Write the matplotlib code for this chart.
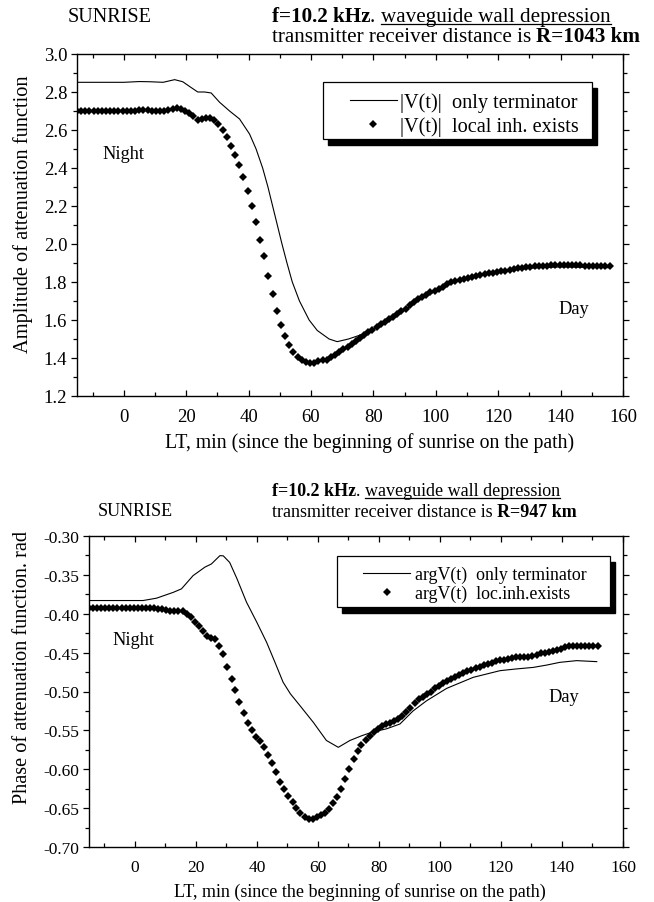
import numpy as np
import matplotlib
matplotlib.use("Agg")
import matplotlib.pyplot as plt
from matplotlib.patches import Rectangle
from matplotlib.lines import Line2D
from matplotlib.ticker import MultipleLocator, FormatStrFormatter

plt.rcParams['font.family'] = ['Liberation Serif', 'DejaVu Serif']
plt.rcParams['axes.unicode_minus'] = False

# ---------------- data ----------------
# sample times (min) of the dotted series
t_dots = [-15.0, -13.7, -12.3, -11.0, -9.7, -8.3, -7.0, -5.7, -4.3, -3.0,
          -1.7, -0.3, 1.0, 2.3, 3.7, 5.0, 6.3, 7.7, 9.0, 10.3,
          11.7, 13.0, 14.3, 15.7, 17.0, 18.3, 19.7, 21.0, 22.3, 23.7,
          25.0, 26.3, 27.7, 29.0, 30.3, 31.7, 33.0, 34.3, 35.7, 37.0,
          38.3, 39.7, 41.0, 42.3, 43.7, 45.0, 46.3, 47.7, 49.0, 50.3,
          51.7, 53.0, 54.3, 55.7, 57.0, 58.3, 59.7, 61.0, 62.3, 63.7,
          65.0, 66.3, 67.7, 69.0, 70.3, 71.7, 73.0, 74.3, 75.7, 77.0,
          78.3, 79.7, 81.0, 82.3, 83.7, 85.0, 86.3, 87.7, 89.0, 90.3,
          91.7, 93.0, 94.3, 95.7, 97.0, 98.3, 99.7, 101.0, 102.3, 103.7,
          105.0, 106.3, 107.7, 109.0, 110.3, 111.7, 113.0, 114.3, 115.7, 117.0,
          118.3, 119.7, 121.0, 122.3, 123.7, 125.0, 126.3, 127.7, 129.0, 130.3,
          131.7, 133.0, 134.3, 135.7, 137.0, 138.3, 139.7, 141.0, 142.3, 143.7,
          145.0, 146.3, 147.7, 149.0, 150.3, 151.7, 153.0, 154.3, 155.7]

# |V(t)| with local inhomogeneity (R=1043 km)
amp_local = [2.700, 2.700, 2.700, 2.700, 2.700, 2.700, 2.700, 2.700, 2.700, 2.700,
             2.700, 2.700, 2.700, 2.700, 2.701, 2.703, 2.704, 2.703, 2.701, 2.700,
             2.699, 2.700, 2.706, 2.713, 2.716, 2.711, 2.701, 2.688, 2.672, 2.655,
             2.657, 2.665, 2.664, 2.652, 2.632, 2.598, 2.565, 2.518, 2.470, 2.418,
             2.355, 2.280, 2.200, 2.115, 2.020, 1.935, 1.830, 1.737, 1.648, 1.575,
             1.515, 1.470, 1.432, 1.405, 1.390, 1.380, 1.374, 1.376, 1.382, 1.387,
             1.392, 1.405, 1.418, 1.430, 1.445, 1.460, 1.474, 1.489, 1.504, 1.519,
             1.535, 1.550, 1.563, 1.577, 1.590, 1.605, 1.618, 1.630, 1.645, 1.660,
             1.677, 1.694, 1.708, 1.720, 1.733, 1.745, 1.755, 1.765, 1.775, 1.787,
             1.798, 1.805, 1.812, 1.818, 1.823, 1.828, 1.833, 1.838, 1.842, 1.846,
             1.850, 1.853, 1.857, 1.860, 1.864, 1.868, 1.872, 1.875, 1.878, 1.880,
             1.882, 1.884, 1.885, 1.886, 1.887, 1.888, 1.889, 1.889, 1.889, 1.889,
             1.888, 1.887, 1.886, 1.885, 1.884, 1.884, 1.883, 1.883, 1.883]

# |V(t)| only terminator
t_amp_term = [-15, 0, 5, 8.3, 12.6, 16.3, 18.9, 21, 23.7, 25.9,
              28, 30.7, 33.9, 37.1, 40.3, 42.4, 44.5, 46.2, 47.7, 49.2,
              50.7, 52.3, 54, 56.3, 59.4, 62, 65.8, 68.4, 72, 76,
              80, 85, 90, 95, 100, 105, 110, 115, 120, 125,
              130, 135, 140, 145, 150, 156]
amp_term = [2.851, 2.851, 2.855, 2.854, 2.851, 2.865, 2.854, 2.83, 2.80, 2.80,
            2.795, 2.746, 2.70, 2.658, 2.579, 2.50, 2.40, 2.30, 2.20, 2.10,
            2.00, 1.90, 1.80, 1.70, 1.60, 1.545, 1.50, 1.486, 1.50, 1.522,
            1.550, 1.598, 1.652, 1.710, 1.752, 1.793, 1.820, 1.836, 1.850, 1.863,
            1.872, 1.877, 1.879, 1.878, 1.876, 1.875]

# argV(t) with local inhomogeneity (R=947 km), first 126 sample times
phase_local = [-0.393, -0.393, -0.393, -0.393, -0.393, -0.393, -0.393, -0.393, -0.393, -0.393,
               -0.393, -0.393, -0.393, -0.393, -0.393, -0.393, -0.393, -0.3935, -0.394, -0.395,
               -0.396, -0.396, -0.396, -0.397, -0.400, -0.404, -0.410, -0.416, -0.422, -0.428,
               -0.431, -0.433, -0.441, -0.452, -0.468, -0.484, -0.498, -0.513, -0.528, -0.540,
               -0.550, -0.558, -0.564, -0.572, -0.582, -0.592, -0.603, -0.616, -0.626, -0.634,
               -0.642, -0.650, -0.656, -0.661, -0.6635, -0.664, -0.662, -0.659, -0.656, -0.651,
               -0.644, -0.636, -0.626, -0.613, -0.600, -0.587, -0.577, -0.569, -0.562, -0.557,
               -0.552, -0.548, -0.545, -0.542, -0.540, -0.538, -0.535, -0.532, -0.527, -0.521,
               -0.515, -0.510, -0.507, -0.503, -0.500, -0.496, -0.493, -0.489, -0.486, -0.484,
               -0.481, -0.479, -0.476, -0.474, -0.472, -0.470, -0.468, -0.466, -0.464, -0.463,
               -0.461, -0.460, -0.459, -0.458, -0.457, -0.456, -0.456, -0.455, -0.455, -0.454,
               -0.453, -0.451, -0.450, -0.449, -0.448, -0.446, -0.445, -0.443, -0.442, -0.441,
               -0.441, -0.441, -0.441, -0.441, -0.442, -0.442]

# argV(t) only terminator
t_phase_term = [-15, 2.7, 7.1, 12.6, 15.3, 19.1, 23, 25.1, 27.9, 29,
                31.1, 33.5, 36.6, 40, 43.2, 46, 48.6, 51, 54.1, 58.5,
                62.8, 66.7, 70.5, 74.3, 77.6, 82.5, 86.9, 91.2, 95.6, 102.2,
                110.9, 119.7, 125, 130.6, 135, 139.3, 144.8, 151.4]
phase_term = [-0.383, -0.383, -0.380, -0.3725, -0.368, -0.351, -0.340, -0.336, -0.3253, -0.3255,
              -0.334, -0.355, -0.385, -0.411, -0.4367, -0.463, -0.488, -0.503, -0.518, -0.5396,
              -0.563, -0.5718, -0.563, -0.557, -0.5525, -0.548, -0.5418, -0.525, -0.512, -0.496,
              -0.4818, -0.4732, -0.471, -0.469, -0.466, -0.4625, -0.4603, -0.4616]

amp_labels = ['|V(t)|  only terminator', '|V(t)|  local inh. exists']
phase_labels = ['argV(t)  only terminator', 'argV(t)  loc.inh.exists']

# ---------------- figure ----------------
W, H = 654, 903
fig = plt.figure(figsize=(W / 100, H / 100), dpi=100)


def px_rect(l, t, r, b):
    return [l / W, 1 - b / H, (r - l) / W, (b - t) / H]


ax1 = fig.add_axes(px_rect(77, 55, 623, 397))
ax2 = fig.add_axes(px_rect(89, 537, 623, 848))


def style(ax, ylim, ymaj, ymin, fmt, fs):
    ax.set_xlim(-15, 160)
    ax.set_ylim(*ylim)
    ax.xaxis.set_major_locator(MultipleLocator(20))
    ax.xaxis.set_minor_locator(MultipleLocator(10))
    ax.yaxis.set_major_locator(MultipleLocator(ymaj))
    ax.yaxis.set_minor_locator(MultipleLocator(ymin))
    ax.yaxis.set_major_formatter(FormatStrFormatter(fmt))
    ax.tick_params(axis='x', which='both', direction='in', top=True, bottom=True,
                   labelsize=fs, pad=8.5)
    ax.tick_params(axis='y', which='both', direction='out', left=True, right=True,
                   labelsize=fs, pad=2.5)
    ax.tick_params(which='major', length=4.5, width=0.9, color='black')
    ax.tick_params(which='minor', length=3.0, width=0.9, color='black')
    for s in ax.spines.values():
        s.set_linewidth(1.0)


style(ax1, (1.2, 3.0), 0.2, 0.1, '%.1f', 13.5)
style(ax2, (-0.70, -0.30), 0.05, 0.025, '%.2f', 12.5)

MS = 3.9

# data
ax1.plot(t_amp_term, amp_term, color='black', lw=0.8)
ax1.plot(t_dots, amp_local, ls='none', marker='D', ms=MS, mew=0, color='black')
ax2.plot(t_phase_term, phase_term, color='black', lw=0.8)
ax2.plot(t_dots[:len(phase_local)], phase_local, ls='none', marker='D', ms=MS, mew=0,
         color='black')

# axis labels
ax1.set_xlabel('LT, min (since the beginning of sunrise on the path)', fontsize=14.2)
ax1.set_ylabel('Amplitude of attenuation function', fontsize=14.7)
ax2.set_xlabel('LT, min (since the beginning of sunrise on the path)', fontsize=13)
ax2.set_ylabel('Phase of attenuation function. rad', fontsize=14.6)
for ax in (ax1, ax2):
    ax.xaxis.label.set_va('center')
    ax.yaxis.label.set_va('center')
ax1.xaxis.set_label_coords(0.535, -0.1345)
ax1.yaxis.set_label_coords(-0.098, 0.535)
ax2.xaxis.set_label_coords(0.508, -0.1415)
ax2.yaxis.set_label_coords(-0.1245, 0.579)

# Night / Day annotations
ax1.text(-6.7, 2.476, 'Night', fontsize=13.2, ha='left', va='center')
ax1.text(139.3, 1.658, 'Day', fontsize=13.2, ha='left', va='center')
ax2.text(-7.2, -0.4331, 'Night', fontsize=13.2, ha='left', va='center')
ax2.text(135.4, -0.507, 'Day', fontsize=13.2, ha='left', va='center')


# legends with shadowed frame
def framed_legend(ax, labels, box, anchor, fs, hl, htp, ls):
    l, t, r, b = box
    ax.add_patch(Rectangle(((l + 5) / W, 1 - (b + 6) / H), (r - l) / W, (b - t) / H,
                           transform=fig.transFigure, facecolor='black',
                           edgecolor='black', zorder=4, clip_on=False))
    ax.add_patch(Rectangle((l / W, 1 - b / H), (r - l) / W, (b - t) / H,
                           transform=fig.transFigure, facecolor='white',
                           edgecolor='black', lw=0.9, zorder=4.1, clip_on=False))
    h1 = Line2D([], [], color='black', lw=0.8)
    h2 = Line2D([], [], ls='none', marker='D', ms=MS, mew=0, color='black')
    leg = ax.legend([h1, h2], labels, loc='upper left',
                    bbox_to_anchor=(anchor[0] / W, 1 - anchor[1] / H),
                    bbox_transform=fig.transFigure, frameon=False, borderpad=0,
                    borderaxespad=0, handlelength=hl, handletextpad=htp,
                    labelspacing=ls, fontsize=fs)
    leg.set_zorder(5)
    return leg


framed_legend(ax1, amp_labels, (323, 83, 592, 140), (350, 93), 14.6, 2.3, 0.15, 0.21)
framed_legend(ax2, phase_labels, (337, 557, 610, 608), (363, 567), 12.9, 2.63, 0.28, 0.1)


# titles (mixed bold / regular runs)
def title_run(x, y, parts, fs):
    prev = None
    arts = []
    for txt, wt in parts:
        if prev is None:
            a = fig.text(x / W, 1 - y / H, txt, fontsize=fs, fontweight=wt,
                         ha='left', va='center')
        else:
            a = ax1.annotate(txt, xy=(1, 0), xycoords=prev, fontsize=fs,
                             fontweight=wt, ha='left', va='bottom',
                             annotation_clip=False)
        arts.append(a)
        prev = a
    return arts


fig.text(68 / W, 1 - 17 / H, 'SUNRISE', fontsize=14.5, ha='left', va='center')
top1 = title_run(272, 17, [('f=10.2 kHz', 'bold'), ('. ', 'normal'),
                           ('waveguide wall depression', 'normal')], 15.2)
title_run(272, 38, [('transmitter receiver distance is ', 'normal'),
                    ('R=1043 km', 'bold')], 15.2)

fig.text(98 / W, 1 - 512 / H, 'SUNRISE', fontsize=13, ha='left', va='center')
bot1 = title_run(272, 492, [('f=10.2 kHz', 'bold'), ('. ', 'normal'),
                            ('waveguide wall depression', 'normal')], 13)
title_run(272, 513, [('transmitter receiver distance is ', 'normal'),
                     ('R=947 km', 'bold')], 13)

# underline "waveguide wall depression"
fig.canvas.draw()
r = fig.canvas.get_renderer()
for art in (top1[-1], bot1[-1]):
    bb = art.get_window_extent(r)
    yy = bb.y0 + 2.0
    fig.add_artist(Line2D([bb.x0, bb.x1], [yy, yy], transform=None,
                          color='black', lw=0.9))

fig.savefig('out.png', dpi=100)
